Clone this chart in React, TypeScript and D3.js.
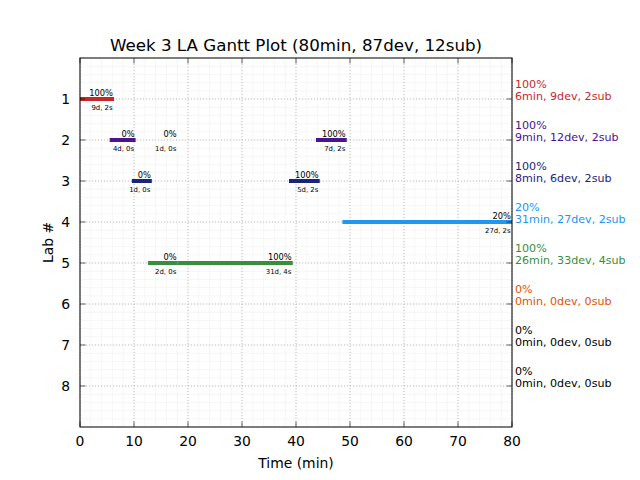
import React from "react";
import * as d3 from "d3";

const labs = [1, 2, 3, 4, 5, 6, 7, 8];
const labPct = [100, 100, 100, 20, 100, 0, 0, 0];
const labMinutes = [6, 9, 8, 31, 26, 0, 0, 0];
const labDevs = [9, 12, 6, 27, 33, 0, 0, 0];
const labSubs = [2, 2, 2, 2, 4, 0, 0, 0];

const sessionLab = [1, 2, 2, 2, 3, 3, 4, 5, 5];
const sessionStart = [0, 5.5, 18.1, 43.7, 9.6, 38.7, 48.6, 12.6, 18.1];
const sessionEnd = [6.3, 10.3, 18.1, 49.4, 13.3, 44.4, 80, 18.1, 39.4];
const sessionPct = [100, 0, 0, 100, 0, 100, 20, 0, 100];
const sessionDetail = ["9d, 2s", "4d, 0s", "1d, 0s", "7d, 2s", "1d, 0s", "5d, 2s", "27d, 2s", "2d, 0s", "31d, 4s"];

const xTicks = [0, 10, 20, 30, 40, 50, 60, 70, 80];
const title = "Week 3 LA Gantt Plot (80min, 87dev, 12sub)";

const COLORS = ["#c62828", "#4a148c", "#1a237e", "#2196f3", "#388e3c", "#e65100", "#000000", "#000000"];
const FONT = "DejaVu Sans, sans-serif";

export default function App() {
  const W = 640, H = 480;
  const L = 80, R = 512, T = 58, B = 427;
  const x = d3.scaleLinear().domain([0, 80]).range([L, R]);
  const y = d3.scaleLinear().domain([0, 9]).range([T, B]);

  const minorX = d3.range(0, 80.01, 2);
  const minorY = d3.range(0, 9.001, 0.2);
  const tickLen = 5.5;

  return (
    <svg width={W} height={H} style={{ position: "absolute", left: 0, top: 0, background: "#fff" }} fontFamily={FONT}>
      <rect x={0} y={0} width={W} height={H} fill="#fff" />
      <defs>
        <clipPath id="plotclip">
          <rect x={L} y={T} width={R - L} height={B - T} />
        </clipPath>
      </defs>
      {/* minor grid */}
      <g stroke="#f0f0f0" strokeWidth={0.6}>
        {minorX.map((v, i) => (
          <line key={"mx" + i} x1={x(v)} x2={x(v)} y1={T} y2={B} />
        ))}
        {minorY.map((v, i) => (
          <line key={"my" + i} x1={L} x2={R} y1={y(v)} y2={y(v)} />
        ))}
      </g>
      {/* major grid */}
      <g stroke="#b0b0b0" strokeWidth={0.8} strokeDasharray="1,2">
        {xTicks.map((v) => (
          <line key={"gx" + v} x1={x(v)} x2={x(v)} y1={T} y2={B} />
        ))}
        {labs.map((v) => (
          <line key={"gy" + v} x1={L} x2={R} y1={y(v)} y2={y(v)} />
        ))}
      </g>
      {/* bars */}
      <g clipPath="url(#plotclip)">
        {sessionLab.map((lab, i) => (
          <line
            key={"bar" + i}
            x1={x(sessionStart[i])}
            x2={x(sessionEnd[i])}
            y1={y(lab)}
            y2={y(lab)}
            stroke={COLORS[lab - 1]}
            strokeWidth={4}
          />
        ))}
      </g>
      {/* bar labels */}
      {sessionLab.map((lab, i) => (
        <g key={"bl" + i}>
          <text x={x(sessionEnd[i]) - 1} y={y(lab) - 3.5} fontSize={8.3} textAnchor="end" fill="#000">
            {sessionPct[i] + "%"}
          </text>
          <text x={x(sessionEnd[i]) - 1.5} y={y(lab) + 11} fontSize={6.9} textAnchor="end" fill="#000">
            {sessionDetail[i]}
          </text>
        </g>
      ))}
      {/* axes frame */}
      <rect x={L} y={T} width={R - L} height={B - T} fill="none" stroke="#000" strokeWidth={1} />
      {/* x ticks */}
      {xTicks.map((v) => (
        <g key={"xt" + v}>
          <line x1={x(v)} x2={x(v)} y1={B} y2={B - tickLen} stroke="#000" strokeWidth={0.6} />
          <line x1={x(v)} x2={x(v)} y1={T} y2={T + tickLen} stroke="#000" strokeWidth={0.6} />
          <text x={x(v)} y={B + 19} fontSize={13.9} textAnchor="middle" fill="#000">
            {v}
          </text>
        </g>
      ))}
      {/* y ticks */}
      {labs.map((v) => (
        <g key={"yt" + v}>
          <line x1={L} x2={L + tickLen} y1={y(v)} y2={y(v)} stroke="#000" strokeWidth={0.6} />
          <line x1={R} x2={R - tickLen} y1={y(v)} y2={y(v)} stroke="#000" strokeWidth={0.6} />
          <text x={L - 10} y={y(v) + 5} fontSize={13.9} textAnchor="end" fill="#000">
            {v}
          </text>
        </g>
      ))}
      {/* right summary labels */}
      {labs.map((lab, i) => (
        <g key={"rl" + lab} fill={COLORS[i]} fontSize={11.1}>
          <text x={R + 3} y={y(lab) - 11}>{labPct[i] + "%"}</text>
          <text x={R + 3} y={y(lab) + 1}>
            {`${labMinutes[i]}min, ${labDevs[i]}dev, ${labSubs[i]}sub`}
          </text>
        </g>
      ))}
      {/* axis labels */}
      <text x={(L + R) / 2} y={468} fontSize={13.9} textAnchor="middle" fill="#000">
        Time (min)
      </text>
      <text
        x={0}
        y={0}
        transform={`translate(53, ${(T + B) / 2}) rotate(-90)`}
        fontSize={13.9}
        textAnchor="middle"
        fill="#000"
      >
        Lab #
      </text>
      <text x={(L + R) / 2} y={51} fontSize={16.7} textAnchor="middle" fill="#000">
        {title}
      </text>
    </svg>
  );
}
